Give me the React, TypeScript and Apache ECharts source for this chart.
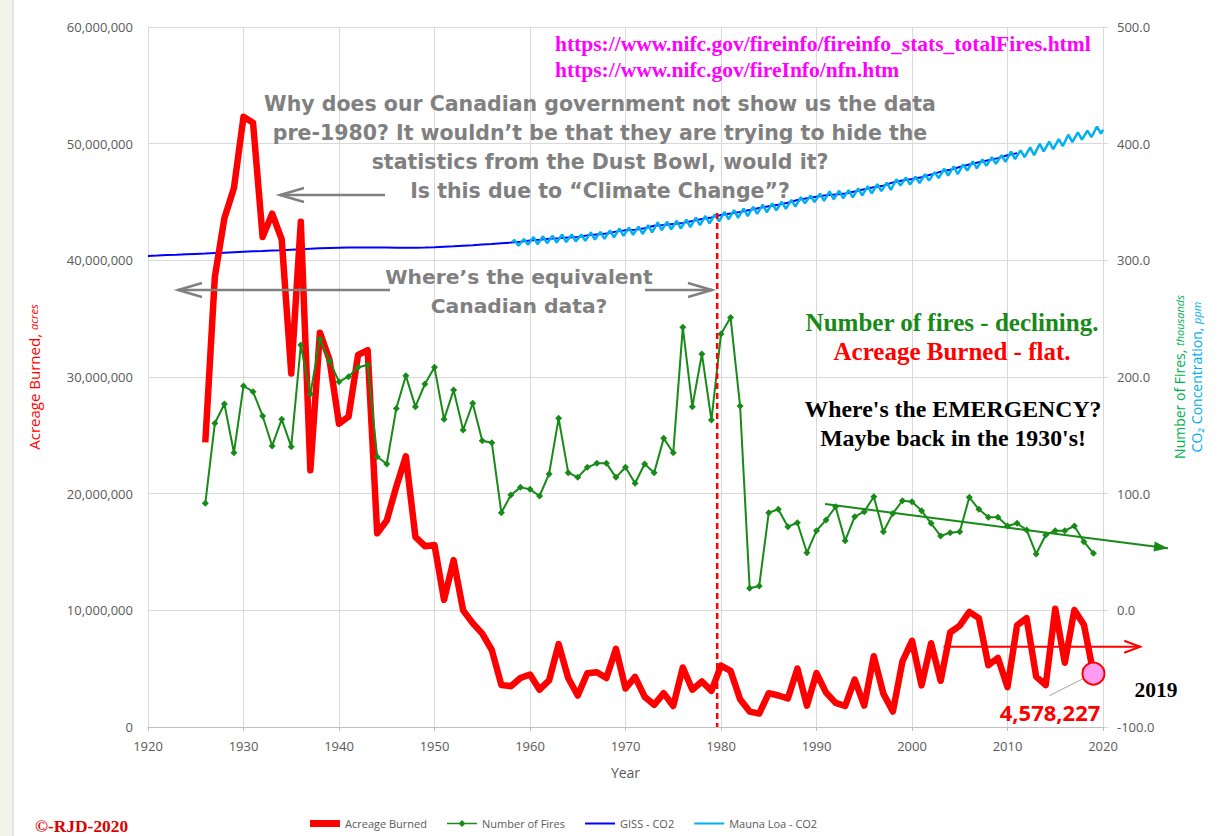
import React, { useEffect, useRef } from "react";
import * as echarts from "echarts";

const FIRST_YEAR = 1926;
const acreageMillions = [
  24.4, 38.6, 43.6, 46.2, 52.3, 51.8, 42.0, 44.0, 41.8, 30.3,
  43.3, 22.0, 33.8, 31.5, 26.0, 26.6, 31.9, 32.3, 16.6, 17.7,
  20.6, 23.2, 16.3, 15.5, 15.6, 10.9, 14.3, 10.0, 8.9, 8.0,
  6.6, 3.6, 3.5, 4.2, 4.5, 3.2, 4.0, 7.1, 4.2, 2.7,
  4.6, 4.7, 4.2, 6.7, 3.3, 4.3, 2.6, 1.9, 2.9, 1.8,
  5.1, 3.2, 3.9, 3.1, 5.26, 4.81, 2.38, 1.32, 1.15, 2.9,
  2.7, 2.45, 5.0, 1.83, 4.62, 2.95, 2.07, 1.8, 4.07, 1.84,
  6.07, 2.86, 1.33, 5.63, 7.39, 3.57, 7.18, 3.96, 8.1, 8.69,
  9.87, 9.33, 5.29, 5.92, 3.42, 8.71, 9.33, 4.32, 3.6, 10.13,
  5.51, 10.03, 8.77, 4.578227,
];
const firesThousands = [
  91.7, 160.3, 176.9, 135.1, 192.3, 187.4, 166.6, 140.9, 163.7, 140.3,
  227.4, 185.4, 232.3, 213.7, 196.0, 200.3, 208.3, 210.3, 131.7, 125.4,
  173.1, 201.1, 174.6, 194.0, 208.3, 163.7, 188.8, 154.6, 177.4, 145.4,
  143.7, 83.7, 98.9, 105.4, 103.7, 98.0, 116.9, 164.6, 118.0, 114.0,
  122.6, 126.0, 126.0, 114.0, 122.6, 108.9, 125.4, 118.0, 147.4, 135.1,
  242.6, 174.6, 219.7, 163.1, 236.9, 251.1, 175.1, 18.9, 20.9, 83.7,
  86.6, 71.7, 75.1, 49.4, 68.3, 77.4, 88.8, 59.7, 80.3, 84.6,
  97.4, 67.4, 83.1, 94.0, 93.1, 85.4, 74.6, 63.7, 66.6, 67.4,
  96.9, 86.6, 79.7, 79.7, 72.3, 74.6, 68.9, 48.3, 64.6, 68.3,
  68.3, 72.3, 58.8, 48.9,
];
const GISS_FIRST_YEAR = 1920;
const gissCO2 = [
  303.8, 304.1, 304.5, 304.8, 305.2, 305.5, 305.8, 306.2, 306.6, 307.0,
  307.4, 307.7, 308.0, 308.4, 308.7, 309.1, 309.5, 309.9, 310.3, 310.6,
  310.8, 310.9, 311.0, 311.0, 311.0, 310.9, 310.7, 310.7, 310.8, 311.0,
  311.3, 311.7, 312.1, 312.6, 313.0, 313.5, 314.0, 314.6, 315.2, 316.0,
  316.9, 317.6, 318.5, 319.0, 319.6, 320.0, 321.4, 322.2, 323.0, 324.6,
  325.7, 326.3, 327.5, 329.7, 330.2, 331.1, 332.0, 333.8, 335.4, 336.8,
  338.8, 340.1, 341.5, 343.2, 344.9, 346.4, 347.6, 349.3, 351.7, 353.2,
  354.5, 355.7, 356.5, 357.2, 359.0, 361.0, 362.7, 363.9, 366.8, 368.5,
  369.7, 371.3, 373.5, 376.0, 377.7, 380.0, 382.1, 384.0, 385.8, 387.6,
  390.1, 391.9,
];
const ML_FIRST_YEAR = 1958;
const maunaLoaMay = [
  317.5, 318.3, 320.0, 320.6, 321.0, 322.1, 322.2, 322.2, 324.0, 324.4,
  325.6, 327.3, 328.1, 328.9, 330.1, 332.5, 333.1, 333.9, 334.9, 336.7,
  338.0, 339.5, 341.5, 343.0, 344.4, 345.9, 347.7, 348.9, 350.2, 351.8,
  354.2, 355.6, 357.1, 359.1, 359.6, 360.2, 361.7, 363.6, 365.3, 366.6,
  369.5, 371.0, 371.8, 373.8, 375.6, 378.5, 380.6, 382.3, 384.8, 386.4,
  388.5, 390.2, 393.2, 394.3, 396.8, 399.8, 401.8, 403.9, 407.7, 409.7,
  411.2, 414.7,
];
const maunaLoaOct = [
  312.5, 313.3, 313.8, 314.7, 315.3, 315.6, 316.2, 316.7, 317.8, 318.4,
  319.6, 321.0, 321.9, 322.6, 324.0, 325.9, 326.6, 327.3, 328.5, 330.2,
  331.7, 333.4, 335.2, 336.4, 337.9, 339.9, 341.2, 342.9, 344.2, 346.0,
  348.8, 349.9, 351.0, 352.4, 353.2, 354.0, 355.7, 357.4, 359.3, 360.4,
  364.0, 364.9, 366.3, 368.3, 370.5, 372.7, 373.9, 377.0, 378.9, 380.9,
  382.7, 384.4, 386.7, 388.5, 390.2, 393.4, 395.3, 398.0, 401.3, 403.4,
  405.6, 408.5,
];
const maunaLoaStart = [1958.15, 315.7];
const maunaLoaEnd = [2020.0, 412.0];

const leftTicks = { min: 0, max: 60000000, interval: 10000000 };
const rightTicks = { min: -100, max: 500, interval: 100 };
const yearTicks = { min: 1920, max: 2020, interval: 10 };

// annotation anchors (data space)
const fireTrend = [[1990.9, 91.1], [2026.8, 53.2]];
const acreTrend = [[2003.3, 6880000], [2023.9, 6880000]];
const dividerLine = [[1979.6, 340.6], [1979.6, -100]];
const lastPoint = [2019, 4578227];

const questionLines = [
  "Why does our Canadian government not show us the data",
  "pre-1980? It wouldn\u2019t be that they are trying to hide the",
  "statistics from the Dust Bowl, would it?",
  "Is this due to \u201cClimate Change\u201d?",
];
const equivalentLines = ["Where\u2019s the equivalent", "Canadian data?"];
const emergencyLines = ["Where's the EMERGENCY?", "Maybe back in the 1930's!"];

const GRAY = "#808080";
const GREEN = "#178a17";

const ICON_THICK = "path://M0,0.5H30V7.5H0Z";
const ICON_THIN = "path://M0,0L0.01,0L0,0.01Z M0,3H30V5H0Z M0,8L0.01,8L0,7.99Z";
const ICON_DIAMOND = "path://M0,3.3H30V4.7H0Z M15,0.5L18.5,4L15,7.5L11.5,4Z";

export default function App() {
  const ref = useRef<HTMLDivElement>(null);
  useEffect(() => {
    if (!ref.current) return;
    const chart = echarts.init(ref.current, null, { renderer: "svg" });

    const acreData = acreageMillions.map((v, i) => [FIRST_YEAR + i, v * 1e6]);
    const fireData = firesThousands.map((v, i) => [FIRST_YEAR + i, v]);
    const gissData = gissCO2.map((v, i) => [GISS_FIRST_YEAR + i, v]);
    const mlData: number[][] = [maunaLoaStart];
    maunaLoaMay.forEach((v, i) => {
      mlData.push([ML_FIRST_YEAR + i + 0.37, v]);
      mlData.push([ML_FIRST_YEAR + i + 0.79, maunaLoaOct[i]]);
    });
    mlData.push(maunaLoaEnd);

    const axisLabelStyle = { color: "#595959", fontSize: 13, fontFamily: "Open Sans" };
    const split = { show: true, lineStyle: { color: "#d9d9d9", width: 1 } };

    chart.setOption({
      animation: false,
      backgroundColor: "#ffffff",
      grid: { left: 148, right: 126, top: 27, bottom: 109 },
      legend: {
        left: 305,
        top: 813,
        itemGap: 20,
        itemWidth: 30,
        itemHeight: 8,
        textStyle: { color: "#595959", fontSize: 11, fontFamily: "Open Sans" },
        data: [
          { name: "Acreage Burned", icon: ICON_THICK },
          { name: "Number of Fires", icon: ICON_DIAMOND },
          { name: "GISS - CO2", icon: ICON_THIN },
          { name: "Mauna Loa - CO2", icon: ICON_THIN },
        ],
      },
      xAxis: {
        type: "value",
        ...yearTicks,
        name: "Year",
        nameLocation: "middle",
        nameGap: 38,
        nameTextStyle: { color: "#595959", fontSize: 14, fontFamily: "Open Sans" },
        axisLine: { show: true, lineStyle: { color: "#bfbfbf" } },
        axisTick: { show: true, length: 4, lineStyle: { color: "#bfbfbf" } },
        axisLabel: { ...axisLabelStyle, margin: 12, formatter: (v: number) => String(v) },
        splitLine: split,
      },
      yAxis: [
        {
          type: "value",
          ...leftTicks,
          position: "left",
          name: "{a|Acreage Burned, }{b|acres}",
          nameLocation: "middle",
          nameRotate: 90,
          nameGap: 107,
          nameTextStyle: {
            rich: {
              a: { color: "#ff0000", fontSize: 15, fontFamily: "Open Sans" },
              b: { color: "#ff0000", fontSize: 11, fontStyle: "italic", fontFamily: "Open Sans" },
            },
          },
          axisLine: { show: true, lineStyle: { color: "#d9d9d9" } },
          axisTick: { show: false },
          axisLabel: {
            ...axisLabelStyle,
            margin: 15,
            formatter: (v: number) => v.toLocaleString("en-US"),
          },
          splitLine: split,
        },
        {
          type: "value",
          ...rightTicks,
          position: "right",
          name: "{g|Number of Fires, }{gi|thousands}\n{c|CO\u2082 Concentration, }{ci|ppm}",
          nameLocation: "middle",
          nameRotate: 90,
          nameGap: 68,
          nameTextStyle: {
            lineHeight: 17,
            rich: {
              g: { color: "#00b050", fontSize: 14, fontFamily: "Open Sans", lineHeight: 17 },
              gi: { color: "#00b050", fontSize: 11, fontStyle: "italic", fontFamily: "Open Sans", lineHeight: 17 },
              c: { color: "#00b0f0", fontSize: 14, fontFamily: "Open Sans", lineHeight: 17 },
              ci: { color: "#00b0f0", fontSize: 11, fontStyle: "italic", fontFamily: "Open Sans", lineHeight: 17 },
            },
          },
          axisLine: { show: true, lineStyle: { color: "#d9d9d9" } },
          axisTick: { show: true, length: 5, lineStyle: { color: "#d9d9d9" } },
          axisLabel: { ...axisLabelStyle, margin: 14, formatter: (v: number) => v.toFixed(1) },
          splitLine: { show: false },
        },
      ],
      series: [
        {
          name: "GISS - CO2",
          type: "line",
          yAxisIndex: 1,
          data: gissData,
          symbol: "none",
          lineStyle: { color: "#0000ff", width: 2 },
          itemStyle: { color: "#0000ff" },
          z: 2,
        },
        {
          name: "Mauna Loa - CO2",
          type: "line",
          yAxisIndex: 1,
          data: mlData,
          symbol: "none",
          lineStyle: { color: "#00b0f0", width: 2.5 },
          itemStyle: { color: "#00b0f0" },
          z: 3,
        },
        {
          name: "Acreage Burned",
          type: "line",
          yAxisIndex: 0,
          data: acreData,
          symbol: "none",
          lineStyle: { color: "#ff0000", width: 6.5, join: "round" },
          itemStyle: { color: "#ff0000" },
          z: 4,
        },
        {
          name: "Number of Fires",
          type: "line",
          yAxisIndex: 1,
          data: fireData,
          symbol: "diamond",
          symbolSize: 7,
          showSymbol: true,
          lineStyle: { color: GREEN, width: 2 },
          itemStyle: { color: GREEN },
          z: 5,
        },
      ],
    });

    const toPx = (axis: number, p: number[]) =>
      chart.convertToPixel({ xAxisIndex: 0, yAxisIndex: axis }, p) as number[];

    const arrowHead = (tail: number[], tip: number[], L: number, w: number) => {
      const dx = tip[0] - tail[0];
      const dy = tip[1] - tail[1];
      const len = Math.hypot(dx, dy);
      const ux = dx / len, uy = dy / len;
      const nx = -uy, ny = ux;
      return [
        [tip[0] - L * ux + w * nx, tip[1] - L * uy + w * ny],
        [tip[0], tip[1]],
        [tip[0] - L * ux - w * nx, tip[1] - L * uy - w * ny],
      ];
    };

    const graphics: any[] = [];
    graphics.push({ type: "rect", shape: { x: 0, y: 0, width: 12, height: 836 }, style: { fill: "#f2f4ea" }, silent: true });
    graphics.push({ type: "line", shape: { x1: 13, y1: 0, x2: 13, y2: 836 }, style: { stroke: "#c8c8c8", lineWidth: 1 } });

    const d0 = toPx(1, dividerLine[0]);
    const d1 = toPx(1, dividerLine[1]);
    graphics.push({
      type: "line",
      shape: { x1: d0[0], y1: d0[1], x2: d1[0], y2: d1[1] },
      style: { stroke: "#ff0000", lineWidth: 2.5, lineDash: [6, 4] },
      z: 10,
    });

    const g0 = toPx(1, fireTrend[0]);
    const g1 = toPx(1, fireTrend[1]);
    graphics.push({ type: "line", shape: { x1: g0[0], y1: g0[1], x2: g1[0], y2: g1[1] }, style: { stroke: GREEN, lineWidth: 2 }, z: 10 });
    graphics.push({ type: "polygon", shape: { points: arrowHead(g0, g1, 14, 5) }, style: { fill: GREEN }, z: 10 });

    const r0 = toPx(0, acreTrend[0]);
    const r1 = toPx(0, acreTrend[1]);
    graphics.push({ type: "line", shape: { x1: r0[0], y1: r0[1], x2: r1[0], y2: r1[1] }, style: { stroke: "#ff0000", lineWidth: 2 }, z: 10 });
    graphics.push({ type: "polyline", shape: { points: arrowHead(r0, r1, 16, 6) }, style: { stroke: "#ff0000", lineWidth: 2, fill: null }, z: 10 });

    const lp = toPx(0, lastPoint);
    graphics.push({ type: "line", shape: { x1: lp[0] - 4, y1: lp[1] + 2, x2: lp[0] - 44, y2: lp[1] + 22 }, style: { stroke: "#a6a6a6", lineWidth: 1 }, z: 10 });
    graphics.push({ type: "circle", shape: { cx: lp[0], cy: lp[1], r: 11 }, style: { fill: "#ff9bf0", stroke: "#ff0000", lineWidth: 2 }, z: 11 });

    const grayArrows = [
      [[385, 195], [280, 195]],
      [[390, 290], [178, 290]],
      [[645, 290], [712, 290]],
    ];
    grayArrows.forEach(([a, b]) => {
      graphics.push({ type: "line", shape: { x1: a[0], y1: a[1], x2: b[0], y2: b[1] }, style: { stroke: GRAY, lineWidth: 2.5 }, z: 10 });
      graphics.push({ type: "polyline", shape: { points: arrowHead(a, b, 24, 7) }, style: { stroke: GRAY, lineWidth: 2.5, fill: null }, z: 10 });
    });

    const txt = (text: string, x: number, y: number, font: string, fill: string, align = "center", lineHeight?: number) => ({
      type: "text",
      x,
      y,
      z: 12,
      style: { text, font, fill, textAlign: align, textVerticalAlign: "middle", lineHeight },
    });
    const serifB = (s: number) => `bold ${s}px "Liberation Serif", "Times New Roman", serif`;
    const sansB = (s: number) => `bold ${s}px "Open Sans", sans-serif`;
    const gothB = (s: number) => `bold ${s}px "DejaVu Sans", sans-serif`;

    graphics.push(txt("https://www.nifc.gov/fireinfo/fireinfo_stats_totalFires.html\nhttps://www.nifc.gov/fireInfo/nfn.htm", 555, 57, serifB(21.5), "#ff00ff", "left", 26));
    graphics.push(txt(questionLines.join("\n"), 600, 147.5, gothB(20.5), GRAY, "center", 28.8));
    graphics.push(txt(equivalentLines.join("\n"), 519, 291.5, gothB(20.3), GRAY, "center", 29));
    graphics.push({
      type: "text",
      x: 952,
      y: 336.5,
      z: 12,
      style: {
        text: "{g|Number of fires - declining.}\n{r|Acreage Burned - flat.}",
        textAlign: "center",
        textVerticalAlign: "middle",
        rich: {
          g: { font: serifB(25), fill: GREEN, lineHeight: 29 },
          r: { font: serifB(25), fill: "#ff0000", lineHeight: 29 },
        },
      },
    });
    graphics.push(txt(emergencyLines.join("\n"), 953, 423.5, serifB(23.8), "#000000", "center", 29));
    graphics.push(txt("2019", 1156, 690, serifB(21.5), "#000000"));
    graphics.push(txt("4,578,227", 1050, 712, sansB(22), "#ff0000"));
    graphics.push(txt("\u00a9-RJD-2020", 35, 826, serifB(17.4), "#e00000", "left"));

    chart.setOption({ graphic: graphics });

    return () => chart.dispose();
  }, []);

  return <div ref={ref} style={{ position: "absolute", left: 0, top: 0, width: 1229, height: 836 }} />;
}
